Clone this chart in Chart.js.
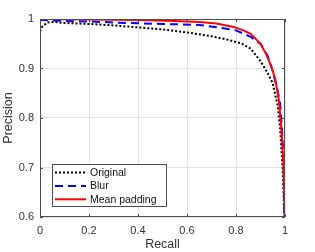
<!DOCTYPE html>
<html>
<head>
<meta charset="utf-8">
<script src="https://cdn.jsdelivr.net/npm/chart.js@4/dist/chart.umd.min.js"></script>
<style>
  html, body { margin: 0; padding: 0; background: #fff; }
</style>
</head>
<body>
<canvas id="pr" width="315" height="252"></canvas>
<script>
// values
const recallOriginal    = [0, 0.01, 0.03, 0.06, 0.1, 0.2, 0.3, 0.4, 0.5, 0.6, 0.65, 0.7, 0.76, 0.82, 0.86, 0.9, 0.93, 0.95, 0.97, 0.98, 0.99, 0.995, 0.997];
const precisionOriginal = [0.975, 0.985, 0.993, 0.994, 0.992, 0.99, 0.987, 0.983, 0.979, 0.973, 0.969, 0.965, 0.959, 0.951, 0.94, 0.915, 0.89, 0.87, 0.825, 0.78, 0.70, 0.64, 0.6];

const recallBlur    = [0, 0.1, 0.2, 0.35, 0.5, 0.65, 0.74, 0.8, 0.86, 0.9, 0.93, 0.95, 0.97, 0.98, 0.99, 0.995, 0.997];
const precisionBlur = [0.998, 0.996, 0.995, 0.992, 0.99, 0.988, 0.982, 0.977, 0.964, 0.95, 0.925, 0.895, 0.855, 0.83, 0.76, 0.69, 0.6];

const recallMean    = [0, 0.2, 0.4, 0.55, 0.65, 0.72, 0.79, 0.83, 0.86, 0.9, 0.925, 0.945, 0.96, 0.975, 0.985, 0.993, 0.997, 0.999];
const precisionMean = [1.0, 0.999, 0.998, 0.996, 0.994, 0.991, 0.984, 0.977, 0.97, 0.95, 0.927, 0.903, 0.879, 0.836, 0.78, 0.715, 0.66, 0.6];

const xTicks = [0, 0.2, 0.4, 0.6, 0.8, 1];
const yTicks = [0.6, 0.7, 0.8, 0.9, 1];

function toPoints(xs, ys) {
    return xs.map((x, i) => ({ x: x, y: ys[i] }));
}

const FONT = 'Liberation Sans, Arial, Helvetica, sans-serif';

// box around the axes, inward ticks and the legend inside the plot
const matlabAxes = {
    id: 'matlabAxes',
    afterDraw(chart) {
        const ctx = chart.ctx;
        const a = chart.chartArea;
        const xs = chart.scales.x, ys = chart.scales.y;
        ctx.save();
        ctx.strokeStyle = '#4d4d4d';
        ctx.lineWidth = 1;
        ctx.setLineDash([]);
        ctx.beginPath();
        xTicks.forEach(v => {
            const px = Math.round(xs.getPixelForValue(v)) + 0.5;
            ctx.moveTo(px, a.bottom); ctx.lineTo(px, a.bottom - 3);
            ctx.moveTo(px, a.top); ctx.lineTo(px, a.top + 3);
        });
        yTicks.forEach(v => {
            const py = Math.round(ys.getPixelForValue(v)) + 0.5;
            ctx.moveTo(a.left, py); ctx.lineTo(a.left + 3, py);
            ctx.moveTo(a.right, py); ctx.lineTo(a.right - 3, py);
        });
        ctx.stroke();
        ctx.strokeRect(Math.round(a.left) + 0.5, Math.round(a.top) + 0.5,
                       Math.round(a.right - a.left) - 1, Math.round(a.bottom - a.top) - 1);

        // legend
        const bx = 52.5, by = 164.5, bw = 114, bh = 42;
        ctx.fillStyle = '#fff';
        ctx.fillRect(bx, by, bw, bh);
        ctx.strokeStyle = '#4d4d4d';
        ctx.strokeRect(bx, by, bw, bh);
        ctx.font = '10.5px ' + FONT;
        ctx.textBaseline = 'middle';
        ctx.textAlign = 'left';
        chart.data.datasets.forEach((ds, i) => {
            const y = 172.5 + i * 13.4;
            ctx.strokeStyle = ds.borderColor;
            ctx.lineWidth = ds.borderWidth;
            ctx.setLineDash(ds.borderDash || []);
            ctx.beginPath();
            ctx.moveTo(55, y); ctx.lineTo(86, y);
            ctx.stroke();
            ctx.fillStyle = '#111';
            ctx.fillText(ds.label, 90, y + 0.5);
        });
        ctx.restore();
    }
};

new Chart(document.getElementById('pr'), {
    type: 'scatter',
    data: {
        datasets: [{
            label: 'Original',
            data: toPoints(recallOriginal, precisionOriginal),
            borderColor: '#000000',
            borderWidth: 2,
            borderDash: [2, 2],
            order: 2
        }, {
            label: 'Blur',
            data: toPoints(recallBlur, precisionBlur),
            borderColor: '#0000ff',
            borderWidth: 2,
            borderDash: [8, 5],
            order: 1
        }, {
            label: 'Mean padding',
            data: toPoints(recallMean, precisionMean),
            borderColor: '#ff0000',
            borderWidth: 2,
            order: 0
        }]
    },
    options: {
        responsive: false,
        animation: false,
        showLine: true,
        elements: {
            point: { radius: 0, hoverRadius: 0 },
            line: { tension: 0, fill: false, borderCapStyle: 'butt' }
        },
        layout: { padding: { left: 0, right: 30, top: 19, bottom: 0 } },
        plugins: {
            legend: { display: false },
            tooltip: { enabled: false }
        },
        scales: {
            x: {
                type: 'linear',
                min: 0,
                max: 1,
                afterFit: s => { s.height = 35; },
                afterBuildTicks: s => { s.ticks = xTicks.map(v => ({ value: v })); },
                ticks: {
                    padding: 7,
                    color: '#333',
                    font: { family: FONT, size: 11 },
                    callback: v => String(+v.toFixed(1))
                },
                grid: { color: '#e3e3e3', drawTicks: false, tickLength: 0 },
                border: { display: false },
                title: {
                    display: true,
                    text: 'Recall',
                    color: '#333',
                    padding: { top: 0, bottom: 0 },
                    font: { family: FONT, size: 12.5 }
                }
            },
            y: {
                type: 'linear',
                min: 0.6,
                max: 1,
                afterFit: s => { s.width = 40; },
                afterBuildTicks: s => { s.ticks = yTicks.map(v => ({ value: v })); },
                ticks: {
                    padding: 6,
                    color: '#333',
                    font: { family: FONT, size: 11 },
                    callback: v => String(+v.toFixed(1))
                },
                grid: { color: '#e3e3e3', drawTicks: false, tickLength: 0 },
                border: { display: false },
                title: {
                    display: true,
                    text: 'Precision',
                    color: '#333',
                    padding: { top: 1, bottom: 0 },
                    font: { family: FONT, size: 12.5 }
                }
            }
        }
    },
    plugins: [matlabAxes]
});
</script>
</body>
</html>
